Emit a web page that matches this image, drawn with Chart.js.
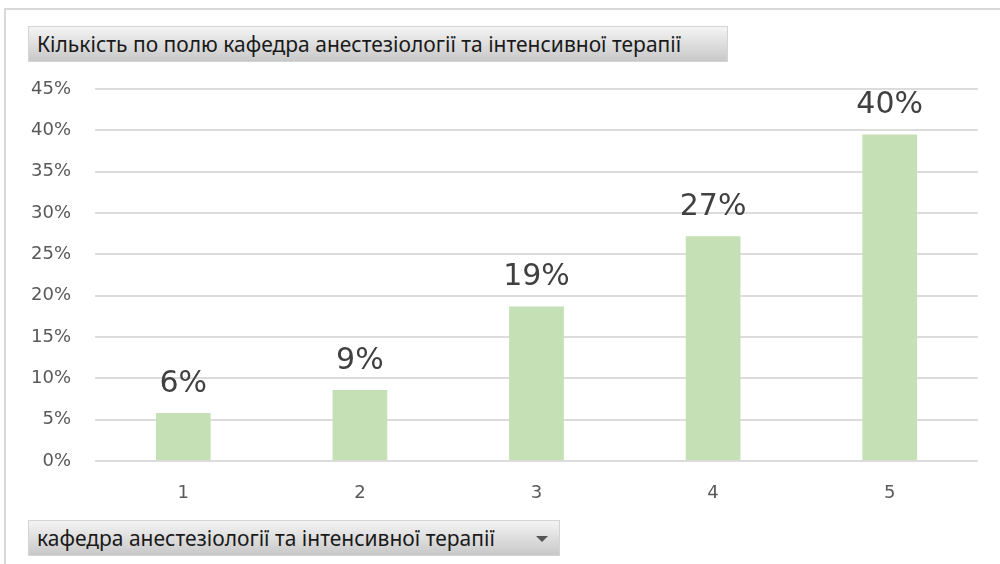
<!DOCTYPE html>
<html>
<head>
<meta charset="utf-8">
<script src="https://cdn.jsdelivr.net/npm/chart.js@4"></script>
<style>
  html, body { margin: 0; padding: 0; background: #fff; }
  #wrap { position: relative; width: 1000px; height: 564px; overflow: hidden; }
  #frame { position: absolute; left: 4px; top: 8px; width: 1000px; height: 600px;
           border-top: 2px solid #d9d9d9; border-left: 2px solid #d9d9d9; }
  canvas { position: absolute; left: 0; top: 0; }
  .btn { position: absolute; box-sizing: border-box; color: #1a1a1a; white-space: nowrap;
         background: linear-gradient(#f4f4f4, #c8c8c8); border: 1px solid #d4d4d4;
         font: 21px "Noto Sans", sans-serif; line-height: 1; }
  #title { left: 28px; top: 26px; width: 700px; height: 36px; padding: 7px 0 0 8px; }
  #field { left: 28px; top: 520px; width: 532px; height: 36px; padding: 7px 0 0 8px; }
  #arrow { position: absolute; left: 507px; top: 15px; width: 0; height: 0;
           border-left: 6px solid transparent; border-right: 6px solid transparent;
           border-top: 6px solid #555; }
</style>
</head>
<body>
<div id="wrap">
  <div id="frame"></div>
  <canvas id="myChart" width="1000" height="564"></canvas>
  <div class="btn" id="title">Кількість по полю кафедра анестезіології та інтенсивної терапії</div>
  <div class="btn" id="field">кафедра анестезіології та інтенсивної терапії<span id="arrow"></span></div>
</div>
<script>
const categories = ["1", "2", "3", "4", "5"];
const shares = [5.8, 8.6, 18.7, 27.2, 39.5];
const shareLabels = ["6%", "9%", "19%", "27%", "40%"];

const barLabels = {
  id: 'barLabels',
  afterDatasetsDraw(chart) {
    const ctx = chart.ctx;
    const meta = chart.getDatasetMeta(0);
    ctx.save();
    ctx.font = '30px "DejaVu Sans", sans-serif';
    ctx.fillStyle = '#404040';
    ctx.textAlign = 'center';
    ctx.textBaseline = 'alphabetic';
    meta.data.forEach(function (bar, i) {
      ctx.fillText(shareLabels[i], bar.x, bar.y - 21);
    });
    ctx.restore();
  }
};

function revenueChart () {
  var ctx = document.getElementById('myChart').getContext('2d');

  new Chart(ctx, {
    type: 'bar',
    data: {
      labels: categories,
      datasets: [{
        data: shares,
        backgroundColor: '#c5e0b4',
        borderWidth: 0,
        categoryPercentage: 1,
        barPercentage: 0.31
      }]
    },
    options: {
      responsive: false,
      animation: false,
      events: [],
      layout: {
        padding: { left: 0, right: 22, top: 89, bottom: 53 }
      },
      plugins: {
        legend: { display: false },
        tooltip: { enabled: false }
      },
      scales: {
        x: {
          grid: { display: false, drawTicks: false },
          border: { display: false },
          ticks: {
            color: '#595959',
            padding: 22,
            maxRotation: 0,
            font: { family: 'DejaVu Sans', size: 18 }
          },
          afterFit: function (s) { s.height = 50; }
        },
        y: {
          min: 0,
          max: 45,
          grid: { color: '#dcdcdc', lineWidth: 2, drawTicks: false },
          border: { display: false },
          ticks: {
            stepSize: 5,
            color: '#595959',
            padding: 24,
            font: { family: 'DejaVu Sans', size: 18 },
            callback: function (v) { return v + '%'; }
          },
          afterFit: function (s) { s.width = 95; }
        }
      }
    },
    plugins: [barLabels]
  });
}

revenueChart();
</script>
</body>
</html>
